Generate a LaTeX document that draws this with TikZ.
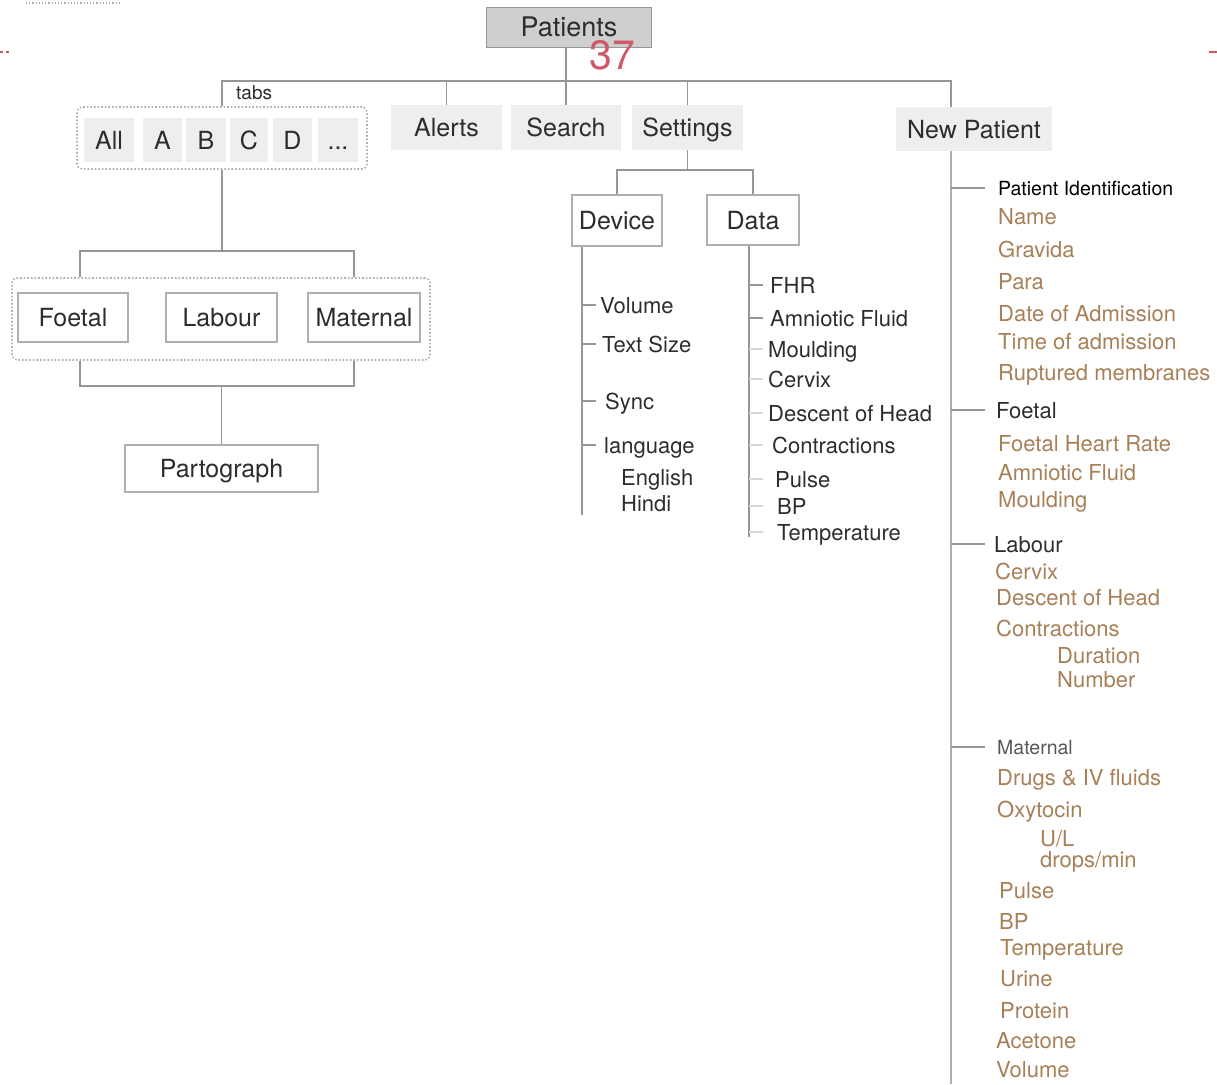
\documentclass[tikz,border=0pt]{standalone}
\usepackage{fontspec}
\setmainfont{TeX Gyre Heros}
\usepackage{tikz}
\definecolor{linegray}{RGB}{150,150,150}
\definecolor{lightline}{RGB}{215,215,215}
\definecolor{boxline}{RGB}{175,175,175}
\definecolor{tabgray}{RGB}{238,238,238}
\definecolor{patgray}{RGB}{207,207,207}
\definecolor{darktext}{RGB}{45,45,45}
\definecolor{brownish}{RGB}{168,128,88}
\definecolor{pagered}{RGB}{205,90,105}

\begin{document}
\begin{tikzpicture}[x=1pt,y=-1pt,
	conn/.style={draw=linegray,line width=1.8pt},
	ticklin/.style={draw=linegray,line width=1.4pt},
	lightlin/.style={draw=lightline,line width=1.4pt},
	tabbox/.style={fill=tabgray,inner sep=0pt,minimum height=44pt,
		font=\fontsize{25}{28}\selectfont,text=darktext,text height=18pt,text depth=0pt},
	framebox/.style={tabbox,fill=white,draw=boxline,line width=1.2pt},
	grpbox/.style={draw=boxline,dotted,line width=1.6pt,rounded corners=5pt,inner sep=0pt},
	lst/.style={anchor=west,inner sep=0pt,font=\fontsize{22}{24}\selectfont,
		text=darktext,text height=16pt,text depth=0pt},
	entry/.style={lst,text=brownish},
	smallhdr/.style={lst,font=\fontsize{19.5}{22}\selectfont,text height=14pt}]
		\useasboundingbox (0,0) rectangle (1217,1084);
		%page marks
		\draw [pagered,dashed,line width=1.5pt] (0,52) -- (11,52);
		\draw [pagered,line width=1.5pt] (1209,52) -- (1217,52);
		\draw [boxline,dotted,line width=1.2pt] (26,3) -- (120,3);
		%top level
		\node [tabbox,fill=patgray,draw=linegray,minimum width=165pt,minimum height=40pt,
			font=\fontsize{27}{30}\selectfont,text height=19pt] (pat) at (569,27) {Patients};
		\node [tabbox,minimum width=111pt,minimum height=45pt] (alerts) at (446.5,127.5) {Alerts};
		\node [tabbox,minimum width=110pt,minimum height=45pt] (search) at (566,127.5) {Search};
		\node [tabbox,minimum width=111pt,minimum height=45pt] (settings) at (687.5,127.5) {Settings};
		\node [tabbox,minimum width=156pt] (newpat) at (974,129) {New Patient};
		\node [anchor=west,inner sep=0pt,font=\fontsize{19}{21}\selectfont,text=darktext] (tabslbl) at (236,93) {tabs};
		%tabs
		\node [grpbox,minimum width=290pt,minimum height=62pt] (tabs) at (222,138) {};
		\node [tabbox,minimum width=50pt] (all) at (109,140) {All};
		\node [tabbox,minimum width=39pt] (ta) at (162.5,140) {A};
		\node [tabbox,minimum width=40pt] (tb) at (206,140) {B};
		\node [tabbox,minimum width=38pt] (tc) at (249,140) {C};
		\node [tabbox,minimum width=39pt] (td) at (292.5,140) {D};
		\node [tabbox,minimum width=40pt] (tmore) at (338,140) {...};
		\coordinate (busr) at (951,81);
		\draw [conn] (tabs.north) |- (busr) -- (busr |- newpat.north);
		\draw [conn] (alerts.north) -- (alerts.north |- busr);
		\draw [conn] (search.north |- pat.south) -- (search.north);
		\draw [conn] (settings.north) -- (settings.north |- busr);
		\node [text=pagered,font=\fontsize{41}{44}\selectfont,inner sep=0pt,
			text height=29pt,text depth=0pt] (pagenum) at (612,55) {37};
		%partograph group
		\node [grpbox,minimum width=418pt,minimum height=82pt] (grp) at (221,319) {};
		\node [framebox,minimum width=110pt,minimum height=49pt] (foetal) at (73,317.5) {Foetal};
		\node [framebox,minimum width=111pt,minimum height=49pt] (labour) at (221.5,317.5) {Labour};
		\node [framebox,minimum width=112pt,minimum height=49pt] (maternal) at (364,317.5) {Maternal};
		\node [framebox,minimum width=193pt,minimum height=47pt] (parto) at (221.5,468.5) {Partograph};
		\coordinate (gl) at (80,251);
		\coordinate (gr) at (354,251);
		\coordinate (gl2) at (80,386);
		\coordinate (gr2) at (354,386);
		\draw [conn] (tabs.south) -- (tabs.south |- gl);
		\draw [conn] (gl |- grp.north) -- (gl) -- (gr) -- (gr |- grp.north);
		\draw [conn] (gl |- grp.south) -- (gl2) -- (gr2) -- (gr |- grp.south);
		\draw [conn] (parto.north) -- (parto.north |- gl2);
		%settings
		\node [framebox,minimum width=90pt,minimum height=51pt] (dev) at (617,220.5) {Device};
		\node [framebox,minimum width=92pt,minimum height=50pt] (data) at (753,220) {Data};
		\coordinate (setbus) at (686,170);
		\draw [conn] (settings.south) -- (settings.south |- setbus);
		\draw [conn] (dev.north) |- (data.north |- setbus) -- (data.north);
		\coordinate (devbot) at (582,515);
		\coordinate (databot) at (749,537);
		\draw [conn] (devbot |- dev.south) -- (devbot);
		\draw [conn] (databot |- data.south) -- (databot);
		\foreach \nm/\x/\y/\txt in {vol/600/305/Volume, tsize/602/344/Text Size,
			sync/605/401/Sync, lang/604/445/language, eng/621/477/English, hin/621/503/Hindi}
			\node [lst] (\nm) at (\x,\y) {\txt};
		\foreach \nm in {vol,tsize,sync,lang}
			\draw [ticklin] (devbot |- \nm.west) -- ++(14,0);
		\foreach \nm/\x/\y/\txt in {fhr/770/285/FHR, amf/770/318/Amniotic Fluid,
			mould/768/349/Moulding, cerv/768/379/Cervix, desc/768/413/Descent of Head,
			contr/772/445/Contractions, puls/775/479/Pulse, bp/777/506/BP, temp/777/532/Temperature}
			\node [lst] (\nm) at (\x,\y) {\txt};
		\foreach \nm in {fhr,amf}
			\draw [ticklin] (databot |- \nm.west) -- ++(14,0);
		\foreach \nm in {mould,cerv,desc,contr,puls,bp,temp}
			\draw [lightlin] (databot |- \nm.west) -- ++(14,0);
		%new patient form
		\coordinate (npbot) at (951,1084);
		\draw [conn,line width=2.4pt,draw=boxline] (npbot |- newpat.south) -- (npbot);
		\node [smallhdr,text=black] (pid) at (998,188) {Patient Identification};
		\node [lst] (fhdr) at (996,410) {Foetal};
		\node [lst] (lhdr) at (994,544) {Labour};
		\node [smallhdr,text=darktext!80] (mhdr) at (997,747) {Maternal};
		\foreach \nm in {pid,fhdr,lhdr,mhdr}
			\draw [ticklin,line width=1.2pt] (npbot |- \nm.west) -- ++(34,0);
		\foreach \nm/\x/\y/\txt in {name/998/216/Name, grav/998/249/Gravida, para/998/281/Para,
			doa/998/313/Date of Admission, toa/998/341/Time of admission,
			rupt/998/372/Ruptured membranes,
			fhrate/998/443/Foetal Heart Rate, famf/998/472/Amniotic Fluid, fmould/998/499/Moulding,
			lcerv/995/571/Cervix, ldesc/996/597/Descent of Head, lcontr/996/628/Contractions,
			ldur/1057/655/Duration, lnum/1057/679/Number,
			drugs/997/777/Drugs \& IV fluids, oxy/997/809/Oxytocin,
			mpuls/999/890/Pulse, mbp/999/921/BP, mtemp/1000/947/Temperature,
			urine/1000/978/Urine, prot/1000/1010/Protein, acet/996/1040/Acetone, mvol/996/1069/Volume}
			\node [entry] (\nm) at (\x,\y) {\txt};
		\node [entry] (ul) at (1040,838) {U/L};
		\node [entry] (drops) at (1040,859) {drops/min};
\end{tikzpicture}
\end{document}
